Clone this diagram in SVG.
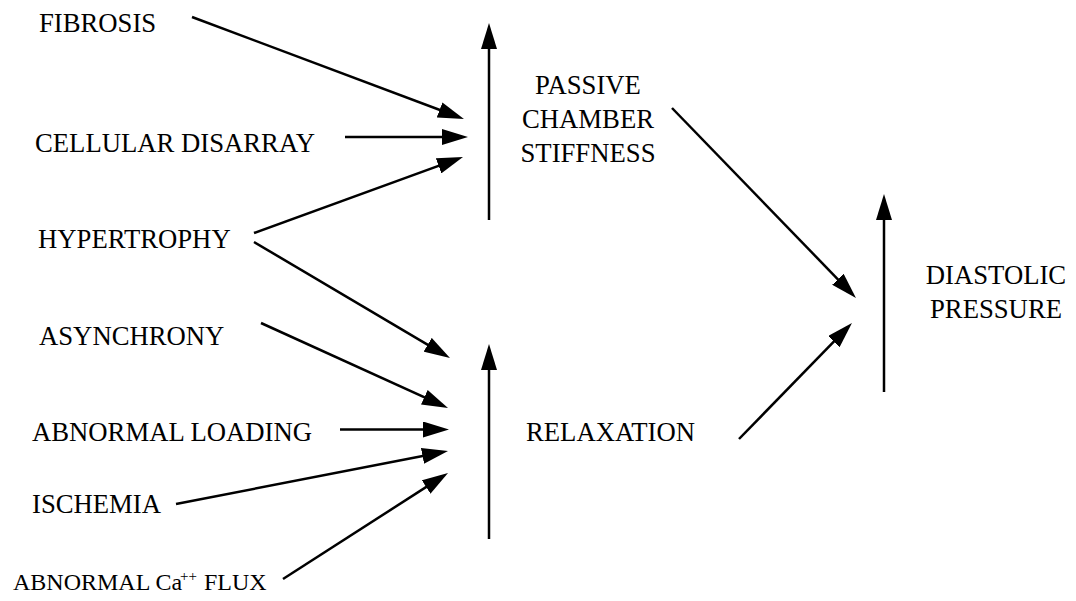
<svg xmlns="http://www.w3.org/2000/svg" width="1076" height="601" viewBox="0 0 1076 601">
<style>
  .conn line { stroke: #000; stroke-width: 2.5; fill: none; }
</style>
<defs>
  <marker id="arrow" markerUnits="userSpaceOnUse" markerWidth="26" markerHeight="16" refX="16" refY="8" orient="auto">
    <path d="M0,0 L26,8 L0,16 z" fill="#000"/>
  </marker>
</defs>
<rect width="1076" height="601" fill="#fff"/>
<g font-family="'Liberation Serif', 'Times New Roman', serif" font-size="26.7" fill="#000">
<g id="fibrosis"><text x="39" y="32">FIBROSIS</text></g>
<g id="cellular-disarray"><text x="35" y="152">CELLULAR DISARRAY</text></g>
<g id="hypertrophy"><text x="38" y="248">HYPERTROPHY</text></g>
<g id="asynchrony"><text x="39" y="345">ASYNCHRONY</text></g>
<g id="abnormal-loading"><text x="32" y="441">ABNORMAL LOADING</text></g>
<g id="ischemia"><text x="32" y="513">ISCHEMIA</text></g>
<g id="abnormal-ca-flux"><text font-size="24" y="590"><tspan x="13">ABNORMAL Ca</tspan><tspan x="180" y="581" font-size="15">++</tspan><tspan x="204" y="590">FLUX</tspan></text></g>
<g id="passive-chamber-stiffness" text-anchor="middle">
  <text x="588" y="94">PASSIVE</text>
  <text x="588" y="128">CHAMBER</text>
  <text x="588" y="162">STIFFNESS</text>
</g>
<g id="relaxation"><text x="526" y="441">RELAXATION</text></g>
<g id="diastolic-pressure" text-anchor="middle">
  <text x="996" y="284">DIASTOLIC</text>
  <text x="996" y="318">PRESSURE</text>
</g>
</g>
<g id="connectors" class="conn">
  <line x1="192" y1="17" x2="454.6" y2="115.5" marker-end="url(#arrow)"/>
  <line x1="345" y1="137" x2="458" y2="137" marker-end="url(#arrow)"/>
  <line x1="254" y1="233" x2="453.6" y2="160.4" marker-end="url(#arrow)"/>
  <line x1="489" y1="220" x2="489" y2="33" marker-end="url(#arrow)"/>
  <line x1="254" y1="242" x2="441.4" y2="352.9" marker-end="url(#arrow)"/>
  <line x1="261" y1="323" x2="438.9" y2="403.9" marker-end="url(#arrow)"/>
  <line x1="340" y1="429.5" x2="439" y2="429.5" marker-end="url(#arrow)"/>
  <line x1="176" y1="504" x2="438.2" y2="452.9" marker-end="url(#arrow)"/>
  <line x1="283" y1="579" x2="439.6" y2="478.4" marker-end="url(#arrow)"/>
  <line x1="489" y1="539" x2="489" y2="354" marker-end="url(#arrow)"/>
  <line x1="672" y1="108" x2="849" y2="290.8" marker-end="url(#arrow)"/>
  <line x1="739" y1="439" x2="845" y2="330.2" marker-end="url(#arrow)"/>
  <line x1="884" y1="392" x2="884" y2="204" marker-end="url(#arrow)"/>
</g>
</svg>
